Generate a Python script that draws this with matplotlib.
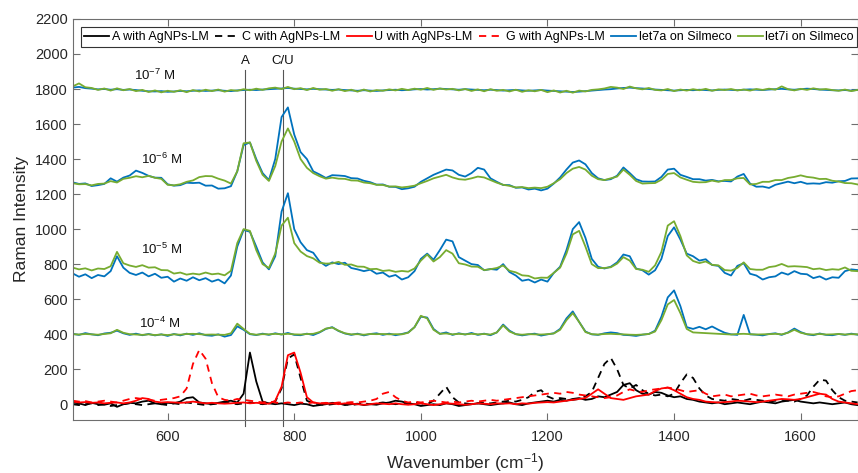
import matplotlib
matplotlib.use('Agg')
import matplotlib.pyplot as plt
import numpy as np

plt.rcParams['font.family'] = ['Liberation Sans', 'DejaVu Sans']
plt.rcParams['mathtext.fontset'] = 'custom'
plt.rcParams['mathtext.rm'] = 'Liberation Sans'
plt.rcParams['mathtext.it'] = 'Liberation Sans:italic'

# wavenumber grid (cm-1), one value every 10 cm-1 from 450 to 1690
wavenumber = np.arange(450, 1691, 10)

# AgNPs-LM reference spectra (bottom)
a_agnps = [10, 5, -5, 8, 0, -3, 5, -15, 0, 8,
           5, 15, 20, 5, 0, 8, 5, 15, 35, 40,
           10, 5, 0, 8, 15, 20, 10, 60, 295, 130,
           15, 5, 0, 5, 0, -5, 3, 0, -10, -5,
           0, 8, 5, -5, 0, 3, -5, 0, -3, 5,
           10, 20, 15, 5, 0, -10, -5, 0, -5, 5,
           0, -10, -5, 0, 5, 0, -5, 0, 5, 10,
           0, -5, 5, 10, 15, 20, 15, 25, 20, 30,
           35, 25, 30, 45, 40, 55, 70, 110, 120, 80,
           60, 55, 70, 65, 50, 40, 45, 30, 25, 15,
           10, 5, 10, 0, 5, 10, 5, 0, 8, 15,
           10, 5, 15, 20, 25, 15, 10, 5, 10, 5,
           0, 5, 10, 0, -5]
c_agnps = [0, -5, 0, 5, -5, 0, -10, -5, 0, 5,
           0, -5, 0, 5, 0, -5, 5, 0, 10, 5,
           0, -5, 0, 5, 10, 5, 0, 5, 10, 5,
           0, 5, 15, 90, 260, 285, 150, 20, 5, 0,
           -5, 0, 5, 0, -5, 0, 5, 0, 5, 10,
           5, 0, 5, 0, 10, 5, 0, 20, 60, 100,
           40, 10, 5, 0, 5, 10, 5, 10, 15, 20,
           15, 25, 40, 70, 80, 45, 30, 35, 30, 25,
           30, 45, 70, 150, 230, 265, 200, 110, 90, 110,
           80, 60, 50, 55, 45, 60, 120, 170, 150, 90,
           50, 30, 25, 20, 30, 25, 20, 30, 25, 20,
           15, 20, 25, 20, 15, 30, 50, 100, 140, 135,
           80, 40, 20, 15, 10]
u_agnps = [15, 10, 12, 8, 10, 5, 8, 10, 5, 10,
           20, 35, 30, 15, 10, 12, 10, 8, 10, 15,
           10, 5, 8, 5, 3, 5, 8, 10, 5, 8,
           5, 3, 20, 100, 280, 295, 180, 40, 10, 5,
           3, 5, 0, 5, 3, 0, -3, 0, 5, 3,
           0, 5, 0, -3, 0, 5, 0, -5, 0, 5,
           3, 0, -3, 0, 5, 3, 0, 5, 3, 5,
           0, 5, 3, 8, 10, 12, 10, 15, 20, 25,
           30, 35, 60, 85, 60, 35, 30, 25, 35, 45,
           50, 55, 75, 90, 95, 80, 60, 40, 30, 25,
           15, 12, 10, 12, 15, 20, 18, 15, 12, 15,
           20, 25, 30, 28, 25, 30, 40, 50, 60, 55,
           30, 15, 10, 5, 0]
g_agnps = [20, 15, 18, 10, 15, 20, 15, 10, 20, 30,
           35, 30, 25, 20, 25, 30, 35, 45, 90, 230,
           310, 260, 120, 40, 25, 20, 30, 25, 20, 15,
           10, 15, 10, 5, 10, 5, 10, 5, 10, 5,
           8, 5, 10, 8, 12, 10, 15, 20, 30, 60,
           70, 40, 20, 10, 15, 10, 15, 20, 15, 10,
           15, 10, 15, 20, 15, 20, 25, 20, 25, 30,
           35, 40, 45, 50, 55, 60, 65, 60, 70, 65,
           55, 50, 45, 40, 35, 40, 50, 70, 85, 75,
           70, 80, 85, 90, 95, 90, 80, 70, 75, 80,
           60, 45, 50, 55, 45, 50, 55, 60, 50, 45,
           50, 55, 50, 45, 55, 60, 65, 70, 60, 45,
           40, 45, 60, 75, 80]

# let7a / let7i on Silmeco at four concentrations (offset spectra)
let7a_1e4 = [402, 396, 406, 399, 394, 404, 408, 420, 405, 396,
             403, 394, 401, 393, 399, 390, 401, 393, 403, 396,
             405, 394, 391, 399, 386, 395, 445, 425, 400, 395,
             403, 396, 405, 398, 407, 396, 394, 403, 395, 410,
             430, 440, 418, 404, 396, 403, 393, 401, 405, 396,
             403, 394, 401, 410, 440, 500, 495, 430, 402, 410,
             396, 405, 398, 407, 396, 403, 394, 410, 455, 420,
             400, 393, 399, 403, 392, 399, 405, 430, 490, 530,
             470, 415, 399, 396, 405, 410, 406, 396, 394, 390,
             397, 401, 420, 500, 610, 650, 560, 440, 430, 442,
             428, 444, 425, 408, 399, 396, 510, 399, 397, 393,
             401, 405, 396, 410, 432, 412, 399, 394, 404, 396,
             394, 401, 396, 403, 397]
let7i_1e4 = [400, 398, 401, 399, 397, 401, 405, 425, 408, 400,
             398, 396, 399, 395, 398, 395, 399, 397, 401, 402,
             400, 397, 398, 397, 396, 405, 460, 430, 402, 397,
             400, 399, 402, 399, 402, 399, 398, 401, 402, 412,
             432, 438, 420, 405, 399, 400, 397, 401, 400, 401,
             399, 400, 399, 408, 440, 505, 490, 425, 402, 404,
             399, 402, 399, 402, 399, 401, 398, 410, 450, 415,
             400, 397, 400, 399, 398, 400, 404, 425, 480, 520,
             470, 412, 400, 398, 401, 402, 400, 399, 397, 396,
             398, 401, 415, 480, 570, 595, 520, 430, 410, 408,
             406, 404, 402, 400, 398, 401, 402, 400, 398, 399,
             400, 402, 399, 408, 425, 408, 400, 398, 401, 398,
             399, 401, 398, 400, 399]
let7a_1e5 = [747, 728, 742, 720, 738, 730, 760, 845, 780, 750,
             738, 752, 730, 745, 722, 728, 700, 718, 705, 725,
             708, 720, 700, 712, 690, 735, 900, 995, 985, 900,
             810, 770, 845, 1100, 1205, 1000, 925, 880, 865, 815,
             790, 810, 800, 808, 778, 770, 760, 768, 745, 752,
             728, 738, 712, 725, 760, 830, 860, 825, 880, 940,
             930, 840, 820, 800, 795, 765, 772, 768, 800, 755,
             735, 705, 712, 695, 712, 700, 750, 785, 880, 1000,
             1040, 950, 830, 785, 775, 785, 810, 855, 845, 775,
             765, 740, 765, 830, 960, 1010, 940, 860, 845, 820,
             828, 795, 790, 750, 735, 790, 805, 745, 735, 712,
             725, 730, 752, 740, 760, 745, 742, 720, 730, 712,
             725, 722, 760, 770, 766]
let7i_1e5 = [780, 770, 776, 764, 775, 772, 788, 870, 805, 792,
             784, 794, 780, 782, 766, 765, 746, 752, 740, 746,
             741, 752, 742, 746, 736, 762, 920, 1000, 990, 880,
             800, 778, 860, 1020, 1065, 920, 872, 846, 833, 808,
             803, 804, 813, 796, 798, 786, 785, 771, 773, 761,
             765, 756, 761, 757, 775, 820, 855, 815, 840, 880,
             860, 805, 798, 786, 785, 766, 771, 778, 792, 762,
             753, 736, 733, 718, 723, 722, 750, 780, 860, 970,
             990, 900, 800, 777, 778, 782, 803, 840, 820, 772,
             768, 756, 793, 870, 1020, 1045, 960, 850, 818, 806,
             815, 796, 793, 766, 763, 778, 810, 772, 768, 768,
             783, 788, 801, 786, 788, 786, 783, 771, 775, 766,
             771, 768, 781, 762, 760]
let7a_1e6 = [1267, 1258, 1261, 1246, 1251, 1258, 1290, 1271, 1294, 1306,
             1334, 1321, 1304, 1294, 1293, 1256, 1248, 1251, 1265, 1263,
             1265, 1248, 1249, 1231, 1233, 1245, 1330, 1480, 1495, 1400,
             1320, 1280, 1400, 1640, 1695, 1540, 1440, 1400, 1330, 1312,
             1292, 1308, 1306, 1303, 1291, 1289, 1276, 1268, 1254, 1255,
             1242, 1241, 1228, 1233, 1242, 1270, 1290, 1310, 1325, 1340,
             1335, 1310, 1300, 1320, 1350, 1340, 1290, 1270, 1252, 1251,
             1236, 1238, 1226, 1231, 1221, 1231, 1260, 1295, 1340, 1380,
             1392, 1370, 1320, 1290, 1280, 1285, 1305, 1352, 1320, 1285,
             1272, 1271, 1272, 1298, 1340, 1345, 1310, 1298, 1285, 1285,
             1277, 1281, 1273, 1275, 1272, 1300, 1315, 1260, 1242, 1243,
             1235, 1253, 1262, 1271, 1262, 1270, 1259, 1261, 1259, 1268,
             1265, 1273, 1275, 1289, 1290]
let7i_1e6 = [1262, 1256, 1257, 1250, 1258, 1260, 1274, 1266, 1287, 1293,
             1302, 1296, 1304, 1293, 1287, 1253, 1250, 1256, 1270, 1278,
             1297, 1303, 1302, 1288, 1277, 1260, 1330, 1490, 1495, 1390,
             1310, 1275, 1360, 1500, 1575, 1500, 1400, 1350, 1320, 1302,
             1288, 1294, 1288, 1287, 1278, 1277, 1266, 1262, 1253, 1252,
             1243, 1244, 1238, 1242, 1248, 1262, 1275, 1290, 1300, 1310,
             1295, 1285, 1282, 1290, 1300, 1295, 1280, 1265, 1253, 1247,
             1238, 1240, 1234, 1237, 1234, 1242, 1262, 1285, 1320, 1345,
             1355, 1340, 1305, 1285, 1280, 1290, 1300, 1340, 1310, 1275,
             1260, 1262, 1263, 1282, 1315, 1320, 1295, 1282, 1270, 1267,
             1268, 1277, 1270, 1280, 1280, 1290, 1292, 1255, 1258, 1270,
             1270, 1280, 1280, 1292, 1298, 1307, 1298, 1294, 1286, 1287,
             1276, 1272, 1263, 1262, 1255]
let7a_1e7 = [1808, 1812, 1805, 1802, 1798, 1800, 1796, 1799, 1795, 1797,
             1794, 1790, 1787, 1786, 1788, 1784, 1786, 1789, 1787, 1790,
             1792, 1789, 1791, 1793, 1790, 1788, 1792, 1794, 1796, 1794,
             1797, 1799, 1801, 1803, 1806, 1802, 1800, 1798, 1801, 1799,
             1797, 1795, 1797, 1794, 1792, 1790, 1793, 1791, 1789, 1792,
             1794, 1796, 1793, 1795, 1798, 1800, 1797, 1799, 1802, 1800,
             1798, 1796, 1799, 1797, 1795, 1793, 1796, 1794, 1791, 1793,
             1795, 1792, 1790, 1792, 1794, 1791, 1789, 1787, 1785, 1783,
             1785, 1788, 1791, 1794, 1797, 1799, 1803, 1806, 1808, 1805,
             1803, 1800, 1797, 1795, 1793, 1791, 1793, 1795, 1793, 1796,
             1794, 1792, 1795, 1797, 1795, 1793, 1796, 1798, 1796, 1794,
             1797, 1799, 1801, 1798, 1796, 1799, 1802, 1800, 1797, 1795,
             1793, 1792, 1794, 1791, 1795]
let7i_1e7 = [1815, 1832, 1810, 1806, 1795, 1803, 1791, 1804, 1793, 1800,
             1788, 1795, 1783, 1792, 1781, 1790, 1784, 1793, 1782, 1794,
             1786, 1796, 1788, 1797, 1785, 1794, 1790, 1799, 1793, 1802,
             1795, 1804, 1808, 1800, 1812, 1799, 1805, 1794, 1806, 1796,
             1800, 1790, 1799, 1788, 1796, 1785, 1797, 1786, 1794, 1790,
             1798, 1792, 1801, 1794, 1802, 1796, 1806, 1795, 1803, 1797,
             1801, 1792, 1800, 1789, 1798, 1787, 1799, 1790, 1795, 1786,
             1796, 1784, 1793, 1787, 1795, 1782, 1792, 1780, 1790, 1779,
             1791, 1786, 1795, 1798, 1803, 1812, 1808, 1800, 1814, 1804,
             1798, 1806, 1795, 1792, 1800, 1788, 1797, 1791, 1799, 1793,
             1801, 1790, 1798, 1794, 1800, 1792, 1797, 1791, 1800, 1795,
             1802, 1796, 1815, 1799, 1792, 1801, 1795, 1804, 1797, 1800,
             1794, 1790, 1797, 1788, 1795]

conc_labels = ['10$^{-7}$ M', '10$^{-6}$ M', '10$^{-5}$ M', '10$^{-4}$ M']
conc_label_pos = [(580, 1880), (590, 1400), (590, 886), (588, 463)]
marker_lines = [(723, 'A'), (782, 'C/U')]

BLUE = '#0072BD'
GREEN = '#77AC30'
RED = '#FF0000'
BLACK = '#000000'
AXC = '#6e6e6e'

fig = plt.figure(figsize=(8.58, 4.73), dpi=100)
ax = fig.add_axes([0.0847, 0.1121, 0.9149, 0.8478])

lw = 1.3
ax.plot(wavenumber, a_agnps, color=BLACK, lw=lw, label='A with AgNPs-LM')
ax.plot(wavenumber, c_agnps, color=BLACK, lw=lw, ls=(0, (4, 3)), label='C with AgNPs-LM')
ax.plot(wavenumber, u_agnps, color=RED, lw=lw, label='U with AgNPs-LM')
ax.plot(wavenumber, g_agnps, color=RED, lw=lw, ls=(0, (4, 3)), label='G with AgNPs-LM')

for i, (sa, si) in enumerate([(let7a_1e4, let7i_1e4), (let7a_1e5, let7i_1e5),
                              (let7a_1e6, let7i_1e6), (let7a_1e7, let7i_1e7)]):
    ax.plot(wavenumber, sa, color=BLUE, lw=lw,
            label='let7a on Silmeco' if i == 0 else None)
    ax.plot(wavenumber, si, color=GREEN, lw=lw,
            label='let7i on Silmeco' if i == 0 else None)

# reference lines for the A and C/U bands
for xv, txt in marker_lines:
    ax.plot([xv, xv], [1910, -125], color='#555555', lw=0.8, clip_on=False, zorder=1)
    ax.text(xv, 1925, txt, fontsize=9.5, ha='center', va='bottom', color='#111111')

for txt, (xv, yv) in zip(conc_labels, conc_label_pos):
    ax.text(xv, yv, txt, fontsize=9.5, ha='center', va='center', color='#111111')

ax.set_xlim(450, 1690)
ax.set_ylim(-90, 2200)
ax.set_xticks(np.arange(600, 1601, 200))
ax.set_yticks(np.arange(0, 2201, 200))
ax.tick_params(direction='in', length=5, width=0.8, color=AXC, labelcolor='#262626',
               labelsize=10.5, top=True, right=True)
ax.tick_params(axis='x', pad=7)
for sp in ax.spines.values():
    sp.set_color(AXC)
    sp.set_linewidth(0.8)

ax.set_xlabel('Wavenumber (cm$^{-1}$)', fontsize=12.5, color='#262626', labelpad=5)
ax.set_ylabel('Raman Intensity', fontsize=12.5, color='#262626', labelpad=4)

leg = ax.legend(loc='upper center', bbox_to_anchor=(0.505, 0.985), ncol=6, fontsize=9,
                frameon=True, fancybox=False, edgecolor='#333333', framealpha=1,
                handlelength=2.0, handletextpad=0.2, columnspacing=0.5,
                borderpad=0.3, borderaxespad=0.2)
leg.get_frame().set_linewidth(0.8)

fig.savefig('out.png', dpi=100)
plt.close(fig)
